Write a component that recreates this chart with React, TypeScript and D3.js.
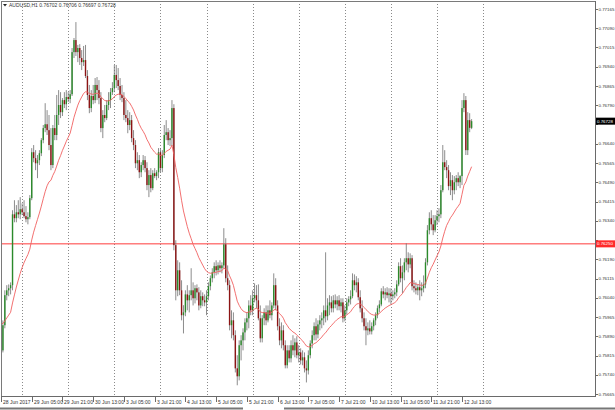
import { useEffect } from 'react';
import * as d3 from 'd3';

// H1 AUDUSD bars, 28 Jun 2017 13:00 .. 12 Jul 2017 18:00 (open = previous close)
const firstOpen = 0.75913;

const closes = [
  0.75835, 0.75933, 0.7605, 0.76069, 0.76077, 0.76089, 0.76365, 0.7635, 0.76373, 0.76365,
  0.76385, 0.76373, 0.76358, 0.76346, 0.76354, 0.76428, 0.76607, 0.76584, 0.76564, 0.76576,
  0.76603, 0.76654, 0.76701, 0.76716, 0.76693, 0.76635, 0.76557, 0.76701, 0.76674, 0.76752,
  0.76791, 0.76763, 0.7681, 0.76794, 0.76822, 0.76814, 0.76833, 0.76997, 0.77044, 0.76997,
  0.77013, 0.76974, 0.76958, 0.76966, 0.76904, 0.7683, 0.76779, 0.76826, 0.7681, 0.76869,
  0.76849, 0.76818, 0.76701, 0.76752, 0.7674, 0.76791, 0.7681, 0.76841, 0.76857, 0.76908,
  0.76888, 0.76865, 0.7683, 0.76818, 0.76752, 0.7674, 0.76713, 0.76732, 0.76662, 0.76635,
  0.76564, 0.76576, 0.76529, 0.76557, 0.76576, 0.76545, 0.76479, 0.76518, 0.76467, 0.76525,
  0.76514, 0.76529, 0.76607, 0.76545, 0.76596, 0.76674, 0.76685, 0.76654, 0.76662, 0.76779,
  0.76245, 0.76069, 0.76147, 0.76069, 0.75972, 0.75983, 0.76053, 0.7603, 0.7605, 0.76069,
  0.76038, 0.76077, 0.76061, 0.7601, 0.76046, 0.7603, 0.76022, 0.76046, 0.76085, 0.76116,
  0.76139, 0.76163, 0.76147, 0.76166, 0.76155, 0.76166, 0.76248, 0.76116, 0.76089, 0.75933,
  0.75952, 0.75894, 0.75765, 0.75734, 0.75855, 0.75874, 0.75905, 0.75944, 0.7596, 0.7601,
  0.75991, 0.76038, 0.7605, 0.7603, 0.7596, 0.75882, 0.7596, 0.75983, 0.75952, 0.75991,
  0.75972, 0.7601, 0.76089, 0.7601, 0.75929, 0.75874, 0.75913, 0.75855, 0.75777, 0.75835,
  0.75804, 0.75855, 0.75835, 0.75866, 0.75816, 0.75827, 0.75796, 0.75808, 0.75765, 0.75757,
  0.75816, 0.75862, 0.75894, 0.75929, 0.75897, 0.75936, 0.75952, 0.7596, 0.75991, 0.75968,
  0.7601, 0.76022, 0.75999, 0.7603, 0.76014, 0.7603, 0.76007, 0.76022, 0.7596, 0.75991,
  0.76022, 0.76034, 0.76046, 0.76108, 0.76089, 0.761, 0.76042, 0.75999, 0.7596, 0.75929,
  0.75913, 0.75921, 0.75909, 0.75929, 0.75952, 0.75972, 0.75999, 0.76014, 0.76065, 0.76053,
  0.76061, 0.7605, 0.76057, 0.76046, 0.76053, 0.76061, 0.76092, 0.76163, 0.76116, 0.76139,
  0.76178, 0.76194, 0.7617, 0.76194, 0.76085, 0.76077, 0.76069, 0.76081, 0.76069, 0.76077,
  0.76092, 0.76178, 0.76303, 0.7635, 0.76326, 0.76303, 0.76342, 0.76358, 0.76365, 0.76459,
  0.76568, 0.76549, 0.76537, 0.76475, 0.76498, 0.76459, 0.7649, 0.76506, 0.7649, 0.76514,
  0.76779, 0.7681, 0.76615, 0.76732, 0.76702, 0.76728,
];

const highs = [
  0.75933, 0.75952, 0.76069, 0.76089, 0.76092, 0.761, 0.76381, 0.7642, 0.76401, 0.7642,
  0.76432, 0.76408, 0.7642, 0.76397, 0.76373, 0.7644, 0.76623, 0.76635, 0.76615, 0.76596,
  0.76615, 0.76662, 0.76713, 0.76798, 0.76771, 0.76752, 0.76701, 0.76713, 0.76752, 0.7683,
  0.76849, 0.76841, 0.76818, 0.76841, 0.76849, 0.76841, 0.76849, 0.77013, 0.77052, 0.77114,
  0.77025, 0.77028, 0.77005, 0.77021, 0.77025, 0.76927, 0.76869, 0.76849, 0.76869, 0.76896,
  0.769, 0.76888, 0.76841, 0.76771, 0.76791, 0.7681, 0.76841, 0.76857, 0.7688, 0.76947,
  0.76947, 0.76935, 0.76896, 0.76869, 0.76841, 0.7681, 0.76771, 0.76763, 0.76752, 0.76693,
  0.76654, 0.76607, 0.76596, 0.76568, 0.76596, 0.76592, 0.76568, 0.76537, 0.76545, 0.76537,
  0.76545, 0.76537, 0.76623, 0.76623, 0.76615, 0.76713, 0.76732, 0.76701, 0.76693, 0.7681,
  0.76794, 0.76264, 0.76186, 0.76178, 0.76108, 0.76011, 0.76069, 0.76089, 0.76069, 0.76155,
  0.761, 0.76089, 0.76092, 0.76081, 0.76069, 0.76061, 0.76053, 0.76069, 0.761, 0.76127,
  0.76155, 0.76178, 0.76186, 0.76178, 0.76186, 0.76178, 0.76311, 0.76272, 0.76166, 0.76108,
  0.75991, 0.75983, 0.75913, 0.75816, 0.75874, 0.75894, 0.75921, 0.7596, 0.75983, 0.7603,
  0.7605, 0.76069, 0.76096, 0.76089, 0.76092, 0.7601, 0.75972, 0.75999, 0.7601, 0.7601,
  0.7603, 0.76022, 0.76135, 0.76116, 0.7603, 0.7596, 0.75944, 0.75933, 0.75874, 0.75855,
  0.75855, 0.75874, 0.75894, 0.75882, 0.7589, 0.75855, 0.75843, 0.75835, 0.75827, 0.75796,
  0.75835, 0.75874, 0.75913, 0.75944, 0.7596, 0.75952, 0.75972, 0.75983, 0.7601, 0.76217,
  0.76038, 0.7605, 0.76046, 0.7605, 0.76053, 0.76046, 0.7605, 0.76038, 0.76038, 0.7601,
  0.76038, 0.76046, 0.76069, 0.76135, 0.76131, 0.76124, 0.76116, 0.76069, 0.7603, 0.75983,
  0.7596, 0.75944, 0.75952, 0.75944, 0.7596, 0.75983, 0.7601, 0.7603, 0.76077, 0.76085,
  0.76077, 0.76081, 0.76077, 0.76077, 0.76069, 0.76077, 0.76108, 0.76178, 0.76194, 0.76166,
  0.76194, 0.76252, 0.76217, 0.76213, 0.76206, 0.76108, 0.761, 0.76092, 0.76108, 0.761,
  0.76127, 0.76194, 0.76323, 0.76373, 0.76381, 0.76362, 0.76362, 0.76381, 0.76389, 0.76479,
  0.76635, 0.76615, 0.76576, 0.76557, 0.76529, 0.76518, 0.76514, 0.76518, 0.76529, 0.76518,
  0.7681, 0.76837, 0.76826, 0.76763, 0.76759, 0.76736,
];

const lows = [
  0.75757, 0.75827, 0.75921, 0.7603, 0.76046, 0.76053, 0.76069, 0.76334, 0.76334, 0.7635,
  0.76346, 0.76362, 0.7635, 0.76334, 0.76326, 0.76346, 0.7642, 0.76568, 0.76537, 0.76506,
  0.76557, 0.76592, 0.76642, 0.76685, 0.76674, 0.76615, 0.76537, 0.76545, 0.76654, 0.76654,
  0.76713, 0.7674, 0.76748, 0.76779, 0.76771, 0.76802, 0.76798, 0.76826, 0.76974, 0.76982,
  0.76958, 0.76947, 0.76927, 0.76943, 0.76896, 0.7681, 0.76759, 0.76763, 0.76794, 0.76798,
  0.7681, 0.76794, 0.76685, 0.76662, 0.76724, 0.76732, 0.76771, 0.76779, 0.7683, 0.76841,
  0.76857, 0.76849, 0.7681, 0.76802, 0.76732, 0.76724, 0.76681, 0.76693, 0.76646, 0.76615,
  0.76545, 0.76537, 0.76506, 0.7651, 0.76537, 0.76529, 0.76459, 0.76432, 0.76451, 0.76459,
  0.76506, 0.76498, 0.76506, 0.76529, 0.76529, 0.76584, 0.76654, 0.76635, 0.76631, 0.76631,
  0.76225, 0.7603, 0.76046, 0.7605, 0.75952, 0.75901, 0.75968, 0.75991, 0.75983, 0.7603,
  0.7601, 0.76018, 0.7603, 0.75991, 0.75999, 0.76007, 0.76007, 0.75972, 0.7603, 0.76069,
  0.761, 0.76116, 0.76127, 0.76131, 0.76139, 0.76135, 0.76155, 0.761, 0.76069, 0.75913,
  0.75882, 0.75874, 0.75749, 0.75699, 0.75718, 0.75796, 0.75835, 0.75874, 0.75913, 0.75921,
  0.75972, 0.75972, 0.76022, 0.75999, 0.75952, 0.75866, 0.75866, 0.75933, 0.75933, 0.75944,
  0.7596, 0.75952, 0.75999, 0.75991, 0.75913, 0.75855, 0.75843, 0.75835, 0.75765, 0.75765,
  0.75788, 0.75788, 0.75816, 0.75808, 0.75804, 0.75788, 0.7578, 0.75777, 0.75749, 0.7571,
  0.75741, 0.75804, 0.75843, 0.75874, 0.75874, 0.75882, 0.75913, 0.75921, 0.75933, 0.75944,
  0.75952, 0.75972, 0.75983, 0.75983, 0.75999, 0.75991, 0.75991, 0.75983, 0.75944, 0.75948,
  0.75975, 0.76007, 0.76014, 0.76038, 0.76069, 0.76061, 0.7603, 0.75983, 0.75944, 0.75913,
  0.75855, 0.75894, 0.75897, 0.75897, 0.75913, 0.75933, 0.7596, 0.75983, 0.76007, 0.76038,
  0.7603, 0.76038, 0.76022, 0.76014, 0.7603, 0.76038, 0.76046, 0.76085, 0.761, 0.76057,
  0.76108, 0.76147, 0.76139, 0.76155, 0.76069, 0.76061, 0.76053, 0.7605, 0.7603, 0.76046,
  0.76061, 0.76077, 0.76166, 0.76287, 0.76303, 0.76284, 0.76295, 0.76323, 0.76334, 0.7635,
  0.76451, 0.76537, 0.76506, 0.76459, 0.7644, 0.7642, 0.76443, 0.76459, 0.76475, 0.76467,
  0.76479, 0.76763, 0.76596, 0.76596, 0.76685, 0.76697,
];

// moving average (exponential, 20) value at the first visible bar
const maPeriod = 20;
const maStart = 0.7594;

const timeLabels = [
  '28 Jun 2017', '29 Jun 05:00', '29 Jun 21:00', '30 Jun 13:00', '3 Jul 05:00',
  '3 Jul 21:00', '4 Jul 13:00', '5 Jul 05:00', '5 Jul 21:00', '6 Jul 13:00',
  '7 Jul 05:00', '7 Jul 21:00', '10 Jul 13:00', '11 Jul 05:00', '11 Jul 21:00', '12 Jul 13:00',
];
const labelStep = 16; // bars between time labels
const dayStarts = [11, 35, 59, 83, 107, 131, 155, 179, 203, 227, 251]; // bar index of 00:00

const priceTicks = [
  0.75665, 0.7574, 0.75815, 0.7589, 0.75965, 0.7604, 0.76115, 0.7619, 0.76265, 0.7634,
  0.76415, 0.7649, 0.76565, 0.7664, 0.76715, 0.7679, 0.76865, 0.7694, 0.77015, 0.7709, 0.77165,
];
const levelPrice = 0.7625;
const lastPrice = 0.76728;
const header = 'AUDUSD,H1  0.76702 0.76706 0.76697 0.76728';

const W = 615;
const H = 410;
const left = 1;
const right = 595;
const top = 1;
const bottom = 396;
const font = '"Liberation Sans", Arial, sans-serif';
const axisFont = 4.4;

export default function App() {
  useEffect(() => {
    document.body.style.margin = '0';
  }, []);

  const x = d3.scaleLinear().domain([0, 240]).range([1, 462]);
  const y = d3.scaleLinear().domain([0.75665, 0.77165]).range([394, 9]);

  const opens = closes.map((_, i) => (i === 0 ? firstOpen : closes[i - 1]));

  const k = 2 / (maPeriod + 1);
  const ma: number[] = [];
  closes.forEach((c, i) => {
    ma.push(i === 0 ? maStart : ma[i - 1] + k * (c - ma[i - 1]));
  });
  const maLine = d3
    .line<number>()
    .x((_, i) => x(i))
    .y((d) => y(d));

  // tick labels hidden behind the price tags
  const tagged = [levelPrice, lastPrice].map((p) => y(p));
  const hidden = (p: number) => tagged.some((ty) => Math.abs(y(p) - ty) < 6);

  const bodyW = 1.4;

  return (
    <svg width={W} height={H} style={{ display: 'block', background: '#fff' }} fontFamily={font}>
      <defs>
        <clipPath id="plot">
          <rect x={left} y={top} width={right - left} height={bottom - top} />
        </clipPath>
      </defs>
      <rect x={0} y={0} width={W} height={H} fill="#fff" />

      {/* day separators */}
      {dayStarts.map((d) => (
        <line
          key={'g' + d}
          x1={Math.round(x(d)) + 0.5}
          x2={Math.round(x(d)) + 0.5}
          y1={top}
          y2={bottom}
          stroke="#8a8a8a"
          strokeWidth={1}
          strokeDasharray="1,2"
        />
      ))}

      <g clipPath="url(#plot)">
        {/* horizontal level */}
        <line x1={left} x2={right} y1={y(levelPrice)} y2={y(levelPrice)} stroke="#ff3b3b" strokeWidth={1} />

        {closes.map((c, i) => {
          const o = opens[i];
          const hi = Math.max(highs[i], o, c);
          const lo = Math.min(lows[i], o, c);
          const up = c >= o;
          const yt = y(Math.max(o, c));
          const yb = y(Math.min(o, c));
          return (
            <g key={i}>
              <line x1={x(i)} x2={x(i)} y1={y(hi)} y2={y(lo)} stroke="#6e6e6e" strokeWidth={0.8} />
              <rect
                x={x(i) - bodyW / 2}
                y={yt}
                width={bodyW}
                height={Math.max(0.6, yb - yt)}
                fill={up ? '#2b8a2b' : '#8c1414'}
              />
            </g>
          );
        })}

        <path d={maLine(ma) ?? ''} fill="none" stroke="#f06060" strokeWidth={0.9} />
      </g>

      {/* frame */}
      <line x1={left + 0.5} x2={left + 0.5} y1={top} y2={bottom} stroke="#7a7a7a" />
      <line x1={left} x2={right} y1={top + 0.5} y2={top + 0.5} stroke="#7a7a7a" />
      <line x1={right + 0.5} x2={right + 0.5} y1={top} y2={bottom + 1} stroke="#6a6a6a" />
      <line x1={left} x2={right + 1} y1={bottom + 0.5} y2={bottom + 0.5} stroke="#6a6a6a" />

      {/* price axis */}
      {priceTicks.map((p) => (
        <g key={'p' + p}>
          <line x1={right} x2={right + 3} y1={Math.round(y(p)) + 0.5} y2={Math.round(y(p)) + 0.5} stroke="#6a6a6a" />
          {!hidden(p) && (
            <text x={right + 3.5} y={y(p)} dy="0.35em" fontSize={axisFont} fill="#333">
              {p.toFixed(5)}
            </text>
          )}
        </g>
      ))}

      {/* level and last price tags */}
      <rect x={right + 1} y={y(levelPrice) - 3.5} width={W - right - 1} height={7} fill="#ff2a2a" />
      <text x={right + 2} y={y(levelPrice)} dy="0.35em" fontSize={axisFont} fill="#fff">
        {levelPrice.toFixed(5)}
      </text>
      <rect x={right + 1} y={y(lastPrice) - 3.5} width={W - right - 1} height={7} fill="#000" />
      <text x={right + 2} y={y(lastPrice)} dy="0.35em" fontSize={axisFont} fill="#fff">
        {lastPrice.toFixed(5)}
      </text>

      {/* time axis */}
      {timeLabels.map((t, i) => {
        const tx = Math.round(x(i * labelStep)) + 0.5;
        return (
          <g key={'t' + i}>
            <line x1={tx} x2={tx} y1={bottom} y2={bottom + 6} stroke="#6a6a6a" />
            <text x={tx + 1.5} y={bottom + 7.5} fontSize={5} fill="#333">
              {t}
            </text>
          </g>
        );
      })}

      {/* header */}
      <path d="M3,4 L7,4 L5,6.5 Z" fill="#222" />
      <text x={9} y={7} fontSize={5} fill="#333">
        {header}
      </text>

      {/* window border */}
      <line x1={0} x2={243} y1={408.5} y2={408.5} stroke="#777" strokeWidth={2} />
      <line x1={284} x2={W} y1={408.5} y2={408.5} stroke="#777" strokeWidth={2} />
    </svg>
  );
}
